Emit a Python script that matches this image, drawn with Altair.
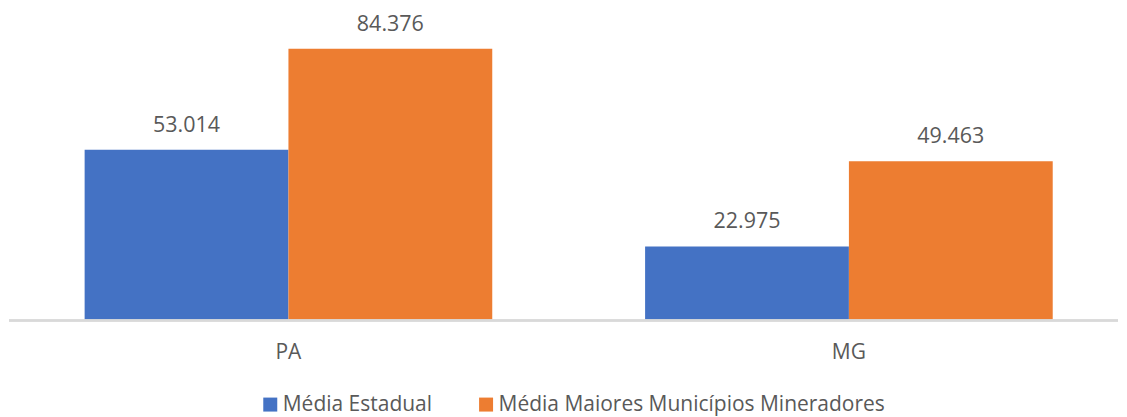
import altair as alt
import pandas as pd

categories = ["PA", "MG"]
series = ["Média Estadual", "Média Maiores Municípios Mineradores"]
media_estadual = [53.014, 22.975]
media_maiores = [84.376, 49.463]
labels_estadual = ["53.014", "22.975"]
labels_maiores = ["84.376", "49.463"]
colors = ["#4472C4", "#ED7D31"]

rows = []
for i, c in enumerate(categories):
    rows.append({"estado": c, "serie": series[0], "valor": media_estadual[i], "rotulo": labels_estadual[i]})
    rows.append({"estado": c, "serie": series[1], "valor": media_maiores[i], "rotulo": labels_maiores[i]})
df = pd.DataFrame(rows)

FONT = "Open Sans"
TXT = "#595959"
W = 1111
H = 312.5

x_enc = alt.X(
    "estado:N",
    sort=categories,
    scale=alt.Scale(paddingInner=0.2727, paddingOuter=0.1266, align=0.54),
    axis=alt.Axis(
        title=None,
        ticks=False,
        domain=False,
        labelAngle=0,
        labelFont=FONT,
        labelFontSize=21,
        labelColor=TXT,
        labelPadding=21,
        grid=False,
    ),
)
xo_enc = alt.XOffset("serie:N", sort=series, scale=alt.Scale(domain=series, paddingInner=0, paddingOuter=0))
y_enc = alt.Y("valor:Q", scale=alt.Scale(domain=[0, 97], nice=False, zero=True), axis=None)

bars = alt.Chart(df).mark_bar().encode(
    x=x_enc,
    xOffset=xo_enc,
    y=y_enc,
    color=alt.Color(
        "serie:N",
        sort=series,
        scale=alt.Scale(domain=series, range=colors),
        legend=alt.Legend(
            title=None,
            orient="none",
            direction="horizontal",
            legendX=252,
            legendY=386,
            symbolType="square",
            symbolSize=196,
            symbolStrokeWidth=0,
            labelFont=FONT,
            labelFontSize=21,
            labelColor=TXT,
            labelOffset=2,
            labelLimit=0,
            columnPadding=43,
            padding=0,
        ),
    ),
)

text = alt.Chart(df).mark_text(
    dy=-18, baseline="alphabetic", font=FONT, fontSize=21.5, color=TXT
).encode(
    x=alt.X("estado:N", sort=categories),
    xOffset=alt.XOffset("serie:N", sort=series),
    y=alt.Y("valor:Q"),
    text="rotulo:N",
)

baseline = alt.Chart(df).mark_rule(color="#D9D9D9", strokeWidth=2).encode(
    x=alt.value(1), x2=alt.value(W), y=alt.value(H)
)

chart = (
    alt.layer(bars, text, baseline)
    .properties(width=W, height=H, padding=0)
    .configure_view(stroke=None)
)

chart.save("out.html", embed_options={"renderer": "svg", "actions": False})
